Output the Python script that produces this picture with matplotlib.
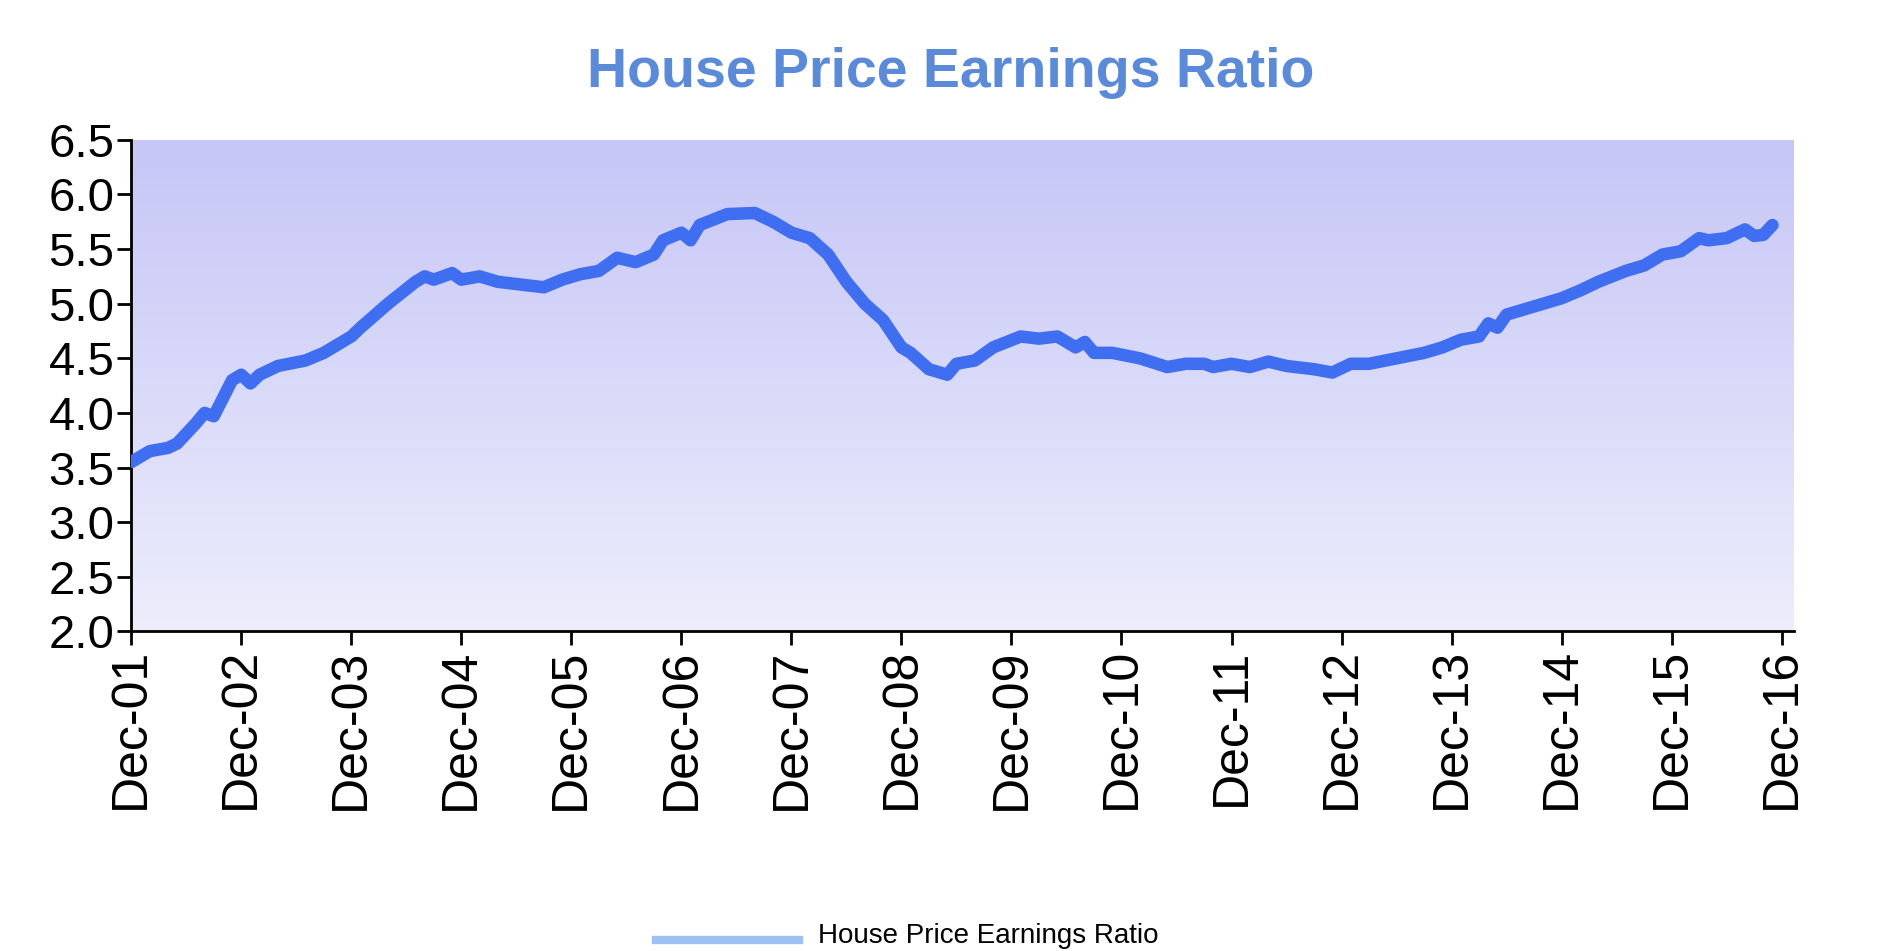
import matplotlib
matplotlib.use("Agg")
import matplotlib.pyplot as plt
import numpy as np
from matplotlib.colors import LinearSegmentedColormap

plt.rcParams['font.family'] = ['Liberation Sans', 'DejaVu Sans']

months = [0, 2, 4, 5, 7, 8, 9, 11, 12, 13, 14, 16, 19, 21, 24, 25, 28, 31, 32, 33, 35, 36, 38, 40, 43, 45, 47, 49, 51, 53, 55, 57, 58, 60, 61, 62, 65, 68, 70, 72, 74, 76, 78, 80, 82, 84, 85, 87, 89, 90, 92, 94, 97, 99, 101, 103, 104, 105, 107, 110, 113, 115, 117, 118, 120, 122, 124, 126, 129, 131, 133, 135, 138, 141, 143, 145, 147, 148, 149, 150, 152, 154, 156, 158, 160, 163, 165, 167, 169, 171, 172, 174, 176, 177, 178, 179]
ratio = [3.55, 3.65, 3.68, 3.72, 3.9, 4.0, 3.97, 4.3, 4.35, 4.27, 4.35, 4.43, 4.48, 4.55, 4.7, 4.78, 5.0, 5.2, 5.25, 5.22, 5.28, 5.22, 5.25, 5.2, 5.17, 5.15, 5.22, 5.27, 5.3, 5.42, 5.38, 5.45, 5.58, 5.65, 5.58, 5.72, 5.82, 5.83, 5.75, 5.65, 5.6, 5.45, 5.2, 5.0, 4.85, 4.6, 4.55, 4.4, 4.35, 4.45, 4.48, 4.6, 4.7, 4.68, 4.7, 4.6, 4.65, 4.55, 4.55, 4.5, 4.42, 4.45, 4.45, 4.42, 4.45, 4.42, 4.47, 4.43, 4.4, 4.37, 4.45, 4.45, 4.5, 4.55, 4.6, 4.67, 4.7, 4.82, 4.78, 4.9, 4.95, 5.0, 5.05, 5.12, 5.2, 5.3, 5.35, 5.45, 5.48, 5.6, 5.58, 5.6, 5.68, 5.62, 5.63, 5.72]
tick_labels = ["Dec-%02d" % y for y in range(1, 17)]
yticks = [2.0, 2.5, 3.0, 3.5, 4.0, 4.5, 5.0, 5.5, 6.0, 6.5]

fig = plt.figure(figsize=(19.02, 9.51), dpi=100)
ax = fig.add_axes([0.069, 0.336, 0.874, 0.517])
ax.set_xlim(0, 181.3)
ax.set_ylim(2.0, 6.5)
grad = np.linspace(0, 1, 256).reshape(-1, 1)
cmap = LinearSegmentedColormap.from_list("g", ["#ededfc", "#c6c6f7"])
ax.imshow(grad, aspect="auto", cmap=cmap, origin="lower",
          extent=[0, 181.3, 2.0, 6.5], zorder=0)
ax.plot(months, ratio, color="#3f6ff0", lw=9, solid_capstyle="round",
        solid_joinstyle="round", zorder=3)
ax.set_xticks(range(0, 181, 12))
ax.set_xticklabels(tick_labels, rotation=90, fontsize=36)
ax.set_yticks(yticks)
ax.set_yticklabels(["%.1f" % v for v in yticks], fontsize=34)
ax.tick_params(direction="out", length=10, width=2, pad=2)
for s in ["top", "right"]:
    ax.spines[s].set_visible(False)
for s in ["left", "bottom"]:
    ax.spines[s].set_linewidth(2)
fig.text(0.5, 0.923, "House Price Earnings Ratio", ha="center", va="center",
         fontsize=40, fontweight="bold", color="#5b8bd8")
fig.add_artist(plt.Line2D([0.345, 0.42], [0.012, 0.012], color="#9ec0f5", lw=6))
fig.text(0.43, 0.002, "House Price Earnings Ratio", fontsize=20, va="bottom")
fig.savefig("out.png", dpi=100)
